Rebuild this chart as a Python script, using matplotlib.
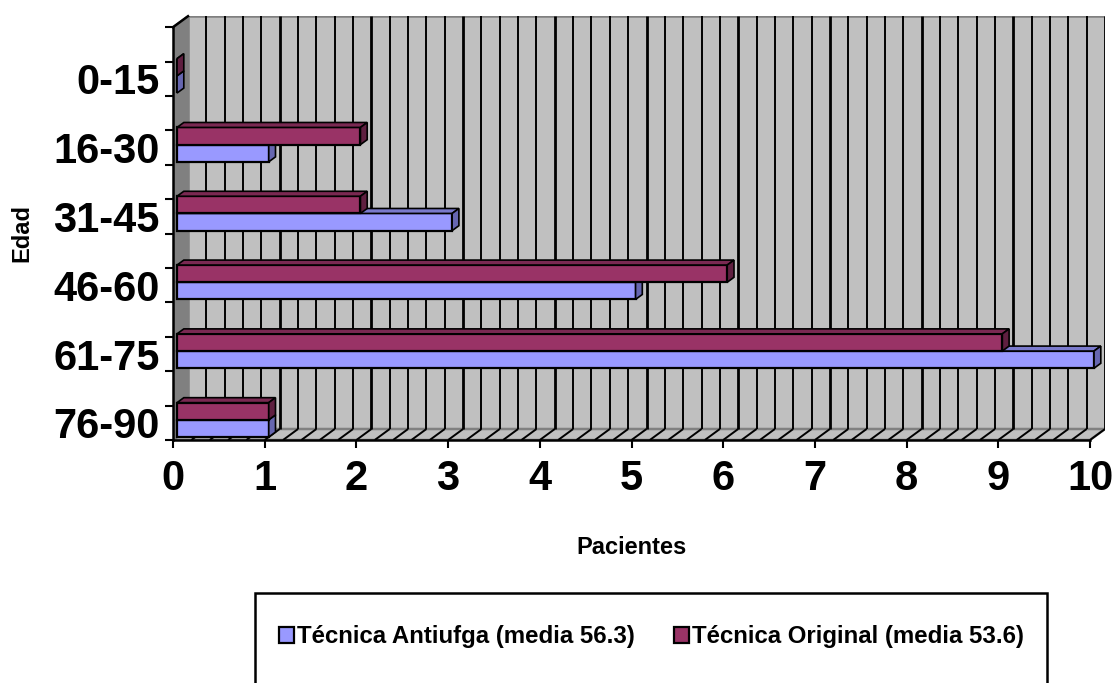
import numpy as np
import matplotlib
matplotlib.use("Agg")
import matplotlib.pyplot as plt
from matplotlib.patches import Polygon, Rectangle, Patch

# ---- data ----
age_groups = ["0-15", "16-30", "31-45", "46-60", "61-75", "76-90"]   # top to bottom
antifuga = [0, 1, 3, 5, 10, 1]       # Técnica Antiufga
original = [0, 2, 2, 6, 9, 1]        # Técnica Original
x_ticks = list(range(0, 11))
series_names = ["Técnica Antiufga (media 56.3)", "Técnica Original (media 53.6)"]

# ---- style ----
plt.rcParams["font.family"] = ["Liberation Sans", "DejaVu Sans"]
plt.rcParams["font.weight"] = "bold"

BLUE, BLUE_TOP, BLUE_SIDE = "#9999FF", "#7A7ACC", "#6666B0"
MAROON, MAROON_TOP, MAROON_SIDE = "#993366", "#7A2952", "#5F1F40"
WALL, WALL_DARK = "#C0C0C0", "#808080"

W, H = 1115, 683
fig = plt.figure(figsize=(W / 100, H / 100), dpi=100)

# pixel geometry of the front plane of the pseudo-3D plot
x0_px, y0_px = 173, 440          # origin (value 0, bottom)
ux, uy = 91.7, 68.8              # px per x unit, px per category
DX, DY = 15 / ux, 11 / uy        # depth offset of the back wall (data units)
n = len(age_groups)
xmax = max(x_ticks)

ax = fig.add_axes([x0_px / W, (H - y0_px) / H,
                   (xmax + DX) * ux / W, (n + DY) * uy / H])
ax.set_xlim(0, xmax + DX)
ax.set_ylim(0, n + DY)
ax.patch.set_visible(False)

# back wall, floor and left wall
ax.add_patch(Rectangle((DX, DY), xmax, n, facecolor=WALL, edgecolor=WALL_DARK,
                       lw=1.8, zorder=0.5))
ax.add_patch(Polygon([(0, 0), (xmax, 0), (xmax + DX, DY), (DX, DY)], closed=True,
                     facecolor=WALL, edgecolor=WALL_DARK, lw=1.8, zorder=0.5))
ax.add_patch(Polygon([(0, 0), (DX, DY), (DX, n + DY), (0, n)], closed=True,
                     facecolor=WALL_DARK, edgecolor=WALL_DARK, lw=1.5, zorder=0.5))
ax.plot([0, DX], [n, n + DY], color="black", lw=1.8, zorder=0.8, clip_on=False)

# gridlines on the back wall, running diagonally across the floor
for g in np.arange(0.2, xmax + 0.01, 0.2):
    lw = 2.0 if abs(g - round(g)) < 1e-6 else 1.4
    ax.plot([g + DX, g + DX], [DY, n + DY], color="black", lw=lw, zorder=0.6,
            solid_capstyle="butt")
    ax.plot([g, g + DX], [0, DY], color="black", lw=1.4, zorder=0.6,
            solid_capstyle="butt")

# bars (front faces through barh, plus top and side faces)
f0, bd = 0.27, 0.45
ox, oy = f0 * DX, f0 * DY
bx, by = bd * DX, bd * DY
bh = 0.25
ypos = np.arange(n)[::-1]          # first group at the top

def bar3d(y0, vals, front, top, side, z):
    ax.barh(y0 + bh / 2 + oy, vals, height=bh, left=ox, color=front,
            edgecolor="black", linewidth=1.6, zorder=z)
    for yb, v in zip(y0, vals):
        yt = yb + bh
        ax.add_patch(Polygon([(ox, yt + oy), (ox + v, yt + oy),
                              (ox + v + bx, yt + oy + by), (ox + bx, yt + oy + by)],
                             closed=True, facecolor=top, edgecolor="black",
                             lw=1.2, zorder=z))
        ax.add_patch(Polygon([(ox + v, yb + oy), (ox + v + bx, yb + oy + by),
                              (ox + v + bx, yt + oy + by), (ox + v, yt + oy)],
                             closed=True, facecolor=side, edgecolor="black",
                             lw=1.2, zorder=z))

bar3d(ypos.astype(float), antifuga, BLUE, BLUE_TOP, BLUE_SIDE, 2)
bar3d(ypos + bh, original, MAROON, MAROON_TOP, MAROON_SIDE, 3)

# axes
for s in ("top", "right"):
    ax.spines[s].set_visible(False)
ax.spines["bottom"].set_bounds(0, xmax)
ax.spines["left"].set_bounds(0, n)
ax.spines["bottom"].set_linewidth(1.8)
ax.spines["left"].set_linewidth(1.8)
ax.spines["bottom"].set_zorder(5)
ax.spines["left"].set_zorder(5)

ax.set_xticks(x_ticks)
ax.set_xticklabels([str(t) for t in x_ticks], fontsize=30, fontweight="bold")
ax.tick_params(axis="x", direction="out", length=6, width=1.5, pad=8)

ax.set_yticks(ypos + 0.25)
ax.set_yticklabels(age_groups, fontsize=30, fontweight="bold")
ax.set_yticks(np.arange(0, n + 0.01, 0.5), minor=True)
ax.tick_params(axis="y", which="major", length=0, pad=9.5)
ax.tick_params(axis="y", which="minor", direction="out", length=6, width=1.5)

# axis titles
fig.text(631.5 / W, 1 - 547 / H, "Pacientes", ha="center", va="center",
         fontsize=17, fontweight="bold")
fig.text(22 / W, 1 - 233 / H, "Edad", ha="center", va="center", rotation=90,
         fontsize=17, fontweight="bold")

# legend box (runs past the bottom edge)
fig.patches.append(Rectangle((255 / W, -20 / H), (1047 - 255) / W, (20 + H - 593) / H,
                             transform=fig.transFigure, facecolor="white",
                             edgecolor="black", lw=1.8, zorder=1))
handles = [Patch(facecolor=BLUE, edgecolor="black", lw=1.6),
           Patch(facecolor=MAROON, edgecolor="black", lw=1.6)]
fig.legend(handles, series_names, loc="center", bbox_to_anchor=(651.5 / W, 1 - 637 / H),
           ncol=2, frameon=False, prop={"size": 17.3, "weight": "bold"},
           handlelength=0.62, handleheight=0.62, handletextpad=0.15,
           columnspacing=1.6, borderpad=0)

fig.savefig("out.png", dpi=100)
